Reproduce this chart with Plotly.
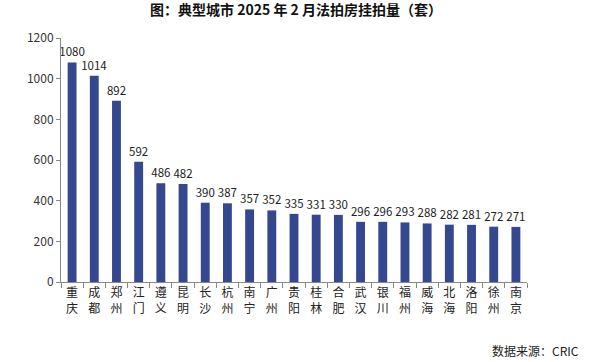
import plotly.graph_objects as go

cities = ["重庆", "成都", "郑州", "江门", "遵义", "昆明", "长沙", "杭州", "南宁", "广州",
          "贵阳", "桂林", "合肥", "武汉", "银川", "福州", "威海", "北海", "洛阳", "徐州", "南京"]
values = [1080, 1014, 892, 592, 486, 482, 390, 387, 357, 352,
          335, 331, 330, 296, 296, 293, 288, 282, 281, 272, 271]

labels = ["<br>".join(list(c)) for c in cities]

fig = go.Figure(go.Bar(
    x=labels, y=values, text=[str(v) for v in values], textposition="outside",
    textfont=dict(size=11.5, color="#222"), cliponaxis=False, constraintext="none",
    marker=dict(color="#33488F", line=dict(width=0)), width=0.4,
))
fig.update_layout(
    width=592, height=362, plot_bgcolor="white", paper_bgcolor="white",
    margin=dict(l=61, r=65, t=38, b=80),
    font=dict(family="Noto Sans CJK SC, sans-serif", color="#222"),
    title=dict(text="<b>图：典型城市 2025 年 2 月法拍房挂拍量（套）</b>", x=0.5, xanchor="center",
               y=0.985, yanchor="top", font=dict(size=14, color="#111")),
    showlegend=False,
)
fig.update_yaxes(range=[0, 1200], dtick=200, showgrid=False, showline=True, linecolor="#888",
                 ticks="outside", ticklen=4, tickcolor="#888", tickfont=dict(size=12, color="#333"))
fig.update_xaxes(showline=True, linecolor="#888", ticks="outside", ticklen=5, tickcolor="#888",
                 tickson="boundaries", tickfont=dict(size=12, color="#222"), tickangle=0)
fig.add_annotation(text="数据来源：CRIC", xref="paper", yref="paper", x=1.115, y=-0.28,
                   xanchor="right", yanchor="middle", showarrow=False,
                   font=dict(size=12, color="#222"))
fig.write_html("out.html", config={"displayModeBar": False},
               post_script="document.body.style.margin='0';document.body.style.overflow='hidden';")
